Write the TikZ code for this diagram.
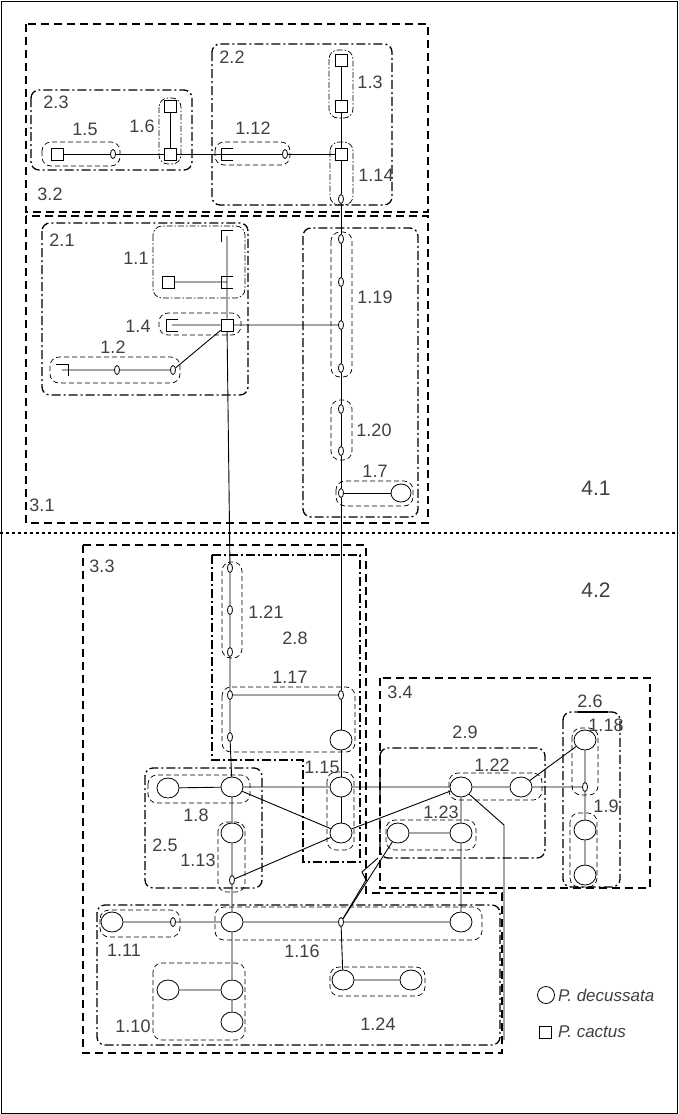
\documentclass[tikz,border=0pt]{standalone}
\usepackage{fontspec}
\setmainfont{Liberation Sans}
\usetikzlibrary{shapes.geometric}
\begin{document}
\begin{tikzpicture}[x=1pt,y=-1pt,
  sq/.style={draw,line width=0.8pt,minimum size=12pt,inner sep=0pt},
  ov/.style={draw,line width=0.8pt,ellipse,minimum width=5pt,minimum height=9pt,inner sep=0pt},
  ci/.style={draw,line width=0.8pt,ellipse,minimum width=22pt,minimum height=20pt,inner sep=0pt},
  pt/.style={inner sep=0pt,minimum size=0pt},
  lab/.style={text=black!75,font=\fontsize{18}{18}\selectfont,inner sep=1pt},
  grpA/.style={line width=2.2pt,dash pattern=on 8pt off 5pt},
  grpB/.style={line width=1.3pt,dash pattern=on 9pt off 3pt on 2pt off 3pt,rounded corners=8pt},
  grpC/.style={line width=0.7pt,dash pattern=on 5pt off 3pt,rounded corners=9pt},
  grpD/.style={line width=0.7pt,dash pattern=on 6pt off 2pt on 1.5pt off 2pt,rounded corners=9pt},
  ed/.style={line width=0.9pt}]
\useasboundingbox (0,0) rectangle (678,1114);
\draw[line width=0.6pt] (1,1) rectangle (677,1113);
\draw[line width=1.6pt,dash pattern=on 3pt off 3pt] (0,533) -- (678,533);
% ---- nodes top ----
\node[sq] (s13a) at (341,60) {};
\node[sq] (s13b) at (341,106) {};
\node[sq] (s14) at (341,154) {};
\node[ov] (o14) at (341,199) {};
\node[sq] (s16a) at (170,106) {};
\node[sq] (s16b) at (170,154) {};
\node[sq] (s15) at (57,154) {};
\node[ov] (o15) at (113,154) {};
\node[pt] (s12) at (227,154) {};
\node[ov] (o12) at (285,154) {};
\draw[ed] (233,148)--(221,148)--(221,160)--(233,160);
% ---- 3.1 ----
\node[pt] (s11a) at (227,236) {};
\draw[ed] (221,242)--(221,230)--(233,230);
\node[sq] (s11b) at (168,282) {};
\node[pt] (s11c) at (227,282) {};
\draw[ed] (233,276)--(221,276)--(221,288)--(233,288);
\node[sq] (s4) at (227,325) {};
\node[pt] (s4l) at (172,325) {};
\draw[ed] (178,319)--(166,319)--(166,331)--(178,331);
\node[pt] (s2) at (62,370) {};
\draw[ed] (56,364)--(68,364)--(68,376);
\node[ov] (o2a) at (117,370) {};
\node[ov] (o2b) at (173,370) {};
\node[ov] (o19a) at (341,239) {};
\node[ov] (o19b) at (341,282) {};
\node[ov] (o19c) at (341,325) {};
\node[ov] (o19d) at (341,368) {};
\node[ov] (o20a) at (341,409) {};
\node[ov] (o20b) at (341,451) {};
\node[ov] (o7) at (341,493) {};
\node[ci,minimum width=20pt,minimum height=18pt] (c7) at (401,493) {};
% ---- bottom ----
\node[ov] (o21a) at (230,568) {};
\node[ov] (o21b) at (230,610) {};
\node[ov] (o21c) at (230,652) {};
\node[ov] (o17a) at (230,695) {};
\node[ov] (o17b) at (341,695) {};
\node[ov] (o17c) at (230,737) {};
\node[ci] (c17) at (341,740) {};
\node[ci] (c15a) at (341,787) {};
\node[ci] (c15b) at (341,833) {};
\node[ci] (c8a) at (168,788) {};
\node[ci] (c8b) at (232,787) {};
\node[ci] (c13) at (232,833) {};
\node[ov] (o13) at (232,880) {};
\node[ci] (c22a) at (461,787) {};
\node[ci] (c22b) at (521,787) {};
\node[ov] (o9) at (585,787) {};
\node[ci] (c18) at (585,740) {};
\node[ci] (c9a) at (585,830) {};
\node[ci] (c9b) at (585,875) {};
\node[ci] (c23a) at (398,833) {};
\node[ci] (c23b) at (461,833) {};
\node[ci] (c11) at (112,922) {};
\node[ov] (o11) at (173,922) {};
\node[ci] (c16a) at (232,922) {};
\node[ov] (o16) at (341,922) {};
\node[ci] (c16b) at (461,922) {};
\node[ci] (c10a) at (168,990) {};
\node[ci] (c10b) at (232,990) {};
\node[ci] (c10c) at (232,1022) {};
\node[ci] (c24a) at (343,980) {};
\node[ci] (c24b) at (411,980) {};
\coordinate (k1) at (504,825);
\coordinate (k2) at (504,1040);
% ---- edges ----
\draw[ed] (s13a)--(s13b) (s13b)--(s14) (s14)--(o14) (o14)--(o19a) (o19a)--(o19b) (o19b)--(o19c) (o19c)--(o19d) (o19d)--(o20a) (o20a)--(o20b) (o20b)--(o7) (o7)--(c7) (o7)--(o17b) (o17b)--(c17) (c17)--(c15a) (c15a)--(c15b);
\draw[ed] (s15)--(o15) (o15)--(s16b) (s16a)--(s16b) (s16b)--(s12) (s12)--(o12) (o12)--(s14);
\draw[ed] (s11a)--(s11c) (s11b)--(s11c) (s11c)--(s4) (s4l)--(s4) (s4)--(o19c) (s4)--(o2b) (s2)--(o2a) (o2a)--(o2b);
\draw[ed] (s4)--(o21a) (o21a)--(o21b) (o21b)--(o21c) (o21c)--(o17a) (o17a)--(o17b) (o17a)--(o17c) (o17c)--(c8b);
\draw[ed] (c8a)--(c8b) (c8b)--(c15a) (c15a)--(c22a) (c8b)--(c15b) (o13)--(c15b) (c15b)--(c22a) (c8b)--(c13) (c13)--(o13) (o13)--(c16a);
\draw[ed] (c22a)--(c22b) (c22b)--(o9) (c22b)--(c18) (c18)--(o9) (o9)--(c9a) (c9a)--(c9b);
\draw[ed] (c22a)--(c23b) (c23a)--(c23b) (c23b)--(c16b) (c22a)--(k1)--(k2) (o16)--(c23a);
\draw[ed] (o16)--(366,880)--(362,872)--(378,858);
\draw[ed] (c11)--(o11) (o11)--(c16a) (c16a)--(o16) (o16)--(c16b) (c16a)--(c10b) (c10a)--(c10b) (c10b)--(c10c) (o16)--(c24a) (c24a)--(c24b);
% ---- group outlines ----
\draw[grpA] (26,24) rectangle (428,212);
\draw[grpA] (26,216) rectangle (428,523);
\draw[grpA] (83,545)--(366,545)--(366,893)--(502,893)--(502,1053)--(83,1053)--cycle;
\draw[grpA] (380,678) rectangle (650,888);
\draw[grpB] (31,90) rectangle (192,170);
\draw[grpB] (212,44) rectangle (392,205);
\draw[grpB] (42,223) rectangle (248,395);
\draw[grpB] (303,228) rectangle (418,517);
\draw[grpB,rounded corners=0pt] (212,555)--(360,555)--(360,862)--(303,862)--(303,760)--(212,760)--cycle;
\draw[grpB] (145,768) rectangle (262,888);
\draw[grpB] (380,748) rectangle (545,858);
\draw[grpB] (563,712) rectangle (620,887);
\draw[grpB] (97,905) rectangle (500,1045);
\draw[grpD] (159,98) rectangle (181,164);
\draw[grpD] (329,50) rectangle (353,118);
\draw[grpD] (330,142) rectangle (353,205);
\draw[grpD] (153,226) rectangle (245,298);
\draw[grpC] (42,142) rectangle (120,166);
\draw[grpC] (215,142) rectangle (290,165);
\draw[grpC] (159,313) rectangle (241,335);
\draw[grpC] (50,357) rectangle (180,383);
\draw[grpC] (331,232) rectangle (352,377);
\draw[grpC] (331,400) rectangle (352,460);
\draw[grpC] (336,481) rectangle (413,506);
\draw[grpC] (222,562) rectangle (242,658);
\draw[grpC] (222,687) rectangle (355,752);
\draw[grpC] (327,772) rectangle (354,850);
\draw[grpC] (148,775) rectangle (250,803);
\draw[grpC] (218,822) rectangle (245,892);
\draw[grpC] (449,773) rectangle (542,800);
\draw[grpC] (572,728) rectangle (598,795);
\draw[grpC] (570,813) rectangle (597,887);
\draw[grpC] (386,820) rectangle (476,850);
\draw[grpC] (100,910) rectangle (180,937);
\draw[grpC] (215,907) rectangle (482,940);
\draw[grpC] (153,963) rectangle (245,1040);
\draw[grpC] (330,967) rectangle (425,996);
\draw[line width=1.3pt] (578,712)--(608,712);
% ---- labels ----
\node[lab] (l23) at (56,102) {2.3};
\node[lab] (l15) at (85,129) {1.5};
\node[lab] (l16) at (142,126) {1.6};
\node[lab] (l112) at (253,128) {1.12};
\node[lab] (l22) at (232,57) {2.2};
\node[lab] (l13) at (370,82) {1.3};
\node[lab] (l114) at (376,175) {1.14};
\node[lab] (l32) at (50,194) {3.2};
\node[lab] (l21) at (62,240) {2.1};
\node[lab] (l11) at (136,258) {1.1};
\node[lab] (l14) at (138,326) {1.4};
\node[lab] (l12) at (113,347) {1.2};
\node[lab] (l119) at (375,297) {1.19};
\node[lab] (l120) at (374,430) {1.20};
\node[lab] (l17) at (375,471) {1.7};
\node[lab] (l31) at (42,505) {3.1};
\node[lab,font=\fontsize{21}{21}\selectfont] (l41) at (596,488) {4.1};
\node[lab,font=\fontsize{21}{21}\selectfont] (l42) at (596,590) {4.2};
\node[lab] (l33) at (102,566) {3.3};
\node[lab] (l121) at (266,612) {1.21};
\node[lab] (l28) at (295,638) {2.8};
\node[lab] (l117) at (290,677) {1.17};
\node[lab] (l115) at (322,767) {1.15};
\node[lab] (l18) at (196,815) {1.8};
\node[lab] (l25) at (165,845) {2.5};
\node[lab] (l113) at (198,860) {1.13};
\node[lab] (l34) at (400,692) {3.4};
\node[lab] (l29) at (465,732) {2.9};
\node[lab] (l122) at (492,765) {1.22};
\node[lab] (l123) at (441,812) {1.23};
\node[lab] (l26) at (590,701) {2.6};
\node[lab] (l118) at (606,725) {1.18};
\node[lab] (l19) at (606,806) {1.9};
\node[lab] (l111) at (124,950) {1.11};
\node[lab] (l116) at (302,951) {1.16};
\node[lab] (l110) at (133,1026) {1.10};
\node[lab] (l124) at (378,1024) {1.24};
\node[ci,minimum width=17pt,minimum height=17pt] (legc) at (546,995) {};
\node[lab,anchor=west,font=\fontsize{17}{17}\selectfont\itshape] (legct) at (557,995) {P. decussata};
\node[sq] (legs) at (545,1032) {};
\node[lab,anchor=west,font=\fontsize{17}{17}\selectfont\itshape] (legst) at (557,1032) {P. cactus};
\end{tikzpicture}
\end{document}
